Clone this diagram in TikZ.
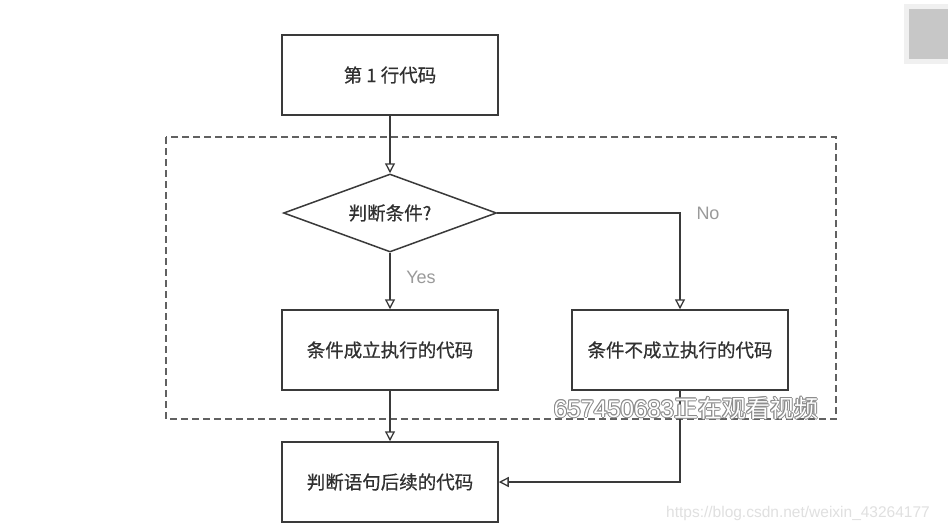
\documentclass[tikz,border=0pt]{standalone}
\usepackage{fontspec}
\setmainfont{Noto Sans CJK SC}
\newfontfamily\latinf{Liberation Sans}
\newfontfamily\cjkb[FakeBold=0.6]{Noto Sans CJK SC}
\usetikzlibrary{arrows.meta,shapes.geometric}
\definecolor{ln}{HTML}{3A3A3A}
\definecolor{tx}{HTML}{303030}
\definecolor{lbl}{HTML}{9A9A9A}
\tikzset{
  box/.style={draw=ln, line width=1.5pt, minimum width=216pt, minimum height=80pt, inner sep=0pt, font=\cjkb\fontsize{18.5}{22}\selectfont, text=tx},
  dec/.style={draw=ln, line width=1.5pt, diamond, aspect=2.73, minimum width=213pt, minimum height=78pt, inner sep=0pt, font=\cjkb\fontsize{18.5}{22}\selectfont, text=tx},
  conn/.style={draw=ln, line width=1.5pt, -{Triangle[open, length=10pt, width=10pt, line width=1.3pt]}},
  lab/.style={text=lbl, font=\latinf\fontsize{18}{20}\selectfont},
  wm/.style={font=\latinf\fontsize{24}{28}\selectfont}
}
\begin{document}
\begin{tikzpicture}[x=1pt,y=-1pt]
\useasboundingbox (0,0) rectangle (948,531);
\fill[white] (0,0) rectangle (948,531);
% corner gray box
\fill[black!6] (904,4) rectangle (952,64);
\fill[black!22] (909,9) rectangle (952,59);
% dashed group
\draw[ln!80, line width=1.5pt, dash pattern=on 7pt off 4pt] (166,137) rectangle (836,419);
\node[box] (b1) at (390,75) {第 1 行代码};
\node[dec] (d) at (390,213) {判断条件?};
\node[box] (b2) at (390,350) {条件成立执行的代码};
\node[box] (b3) at (680,350) {条件不成立执行的代码};
\node[box] (b4) at (390,482) {判断语句后续的代码};
\coordinate (c1) at (680,213);
\coordinate (c2) at (680,482);
\draw[conn] (b1.south) -- (d.north);
\draw[conn] (d.south) -- (b2.north);
\draw[conn] (d.east) -- (c1) -- (b3.north);
\draw[conn] (b2.south) -- (b4.north);
\draw[conn] (b3.south) -- (c2) -- (b4.east);
\node[lab] (yes) at (421,277) {Yes};
\node[lab] (no) at (708,213) {No};
% watermarks
\foreach \dx/\dy in {-1/0,1/0,0/-1,0/1,-0.8/-0.8,0.8/0.8,-0.8/0.8,0.8/-0.8}{
  \node[wm, text=black!45] at (686+\dx,408+\dy) {657450683\fontspec{Noto Sans CJK SC}正在观看视频};
}
\node[wm, text=white] (wm1) at (686,408) {657450683\fontspec{Noto Sans CJK SC}正在观看视频};
\node[text=black!12, font=\latinf\fontsize{15.5}{18}\selectfont] (url) at (798,513) {https://blog.csdn.net/weixin\_43264177};
\end{tikzpicture}
\end{document}
